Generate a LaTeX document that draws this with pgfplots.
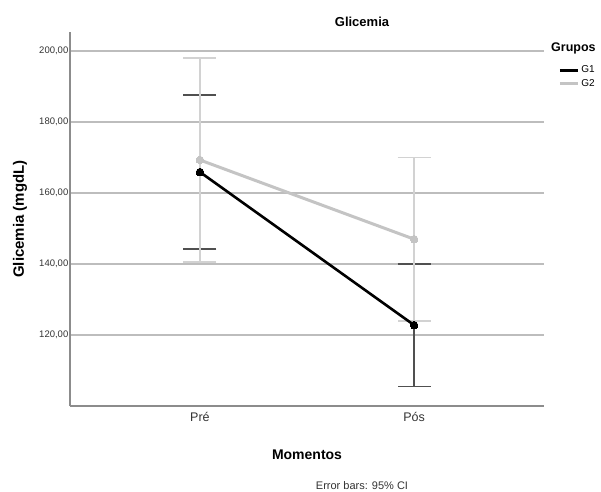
\documentclass[border=0pt]{standalone}
\usepackage{pgfplots}
\pgfplotsset{compat=1.18}
\usepackage{pgfplotstable}
\usepackage{fontspec}
\setmainfont{Liberation Sans}
\definecolor{axisgray}{HTML}{8C8C8C}
\definecolor{gridgray}{HTML}{BDBDBD}
\definecolor{gonebar}{HTML}{505050}
\definecolor{gtwo}{HTML}{C4C4C4}
\definecolor{gtwobar}{HTML}{D2D2D2}
\definecolor{ticktext}{HTML}{333333}

\pgfplotstableread{
x y e
1 165.9 21.7
2 122.8 17.3
}\gone
\pgfplotstableread{
x y e
1 169.3 28.7
2 147.0 23.0
}\gtwo

\begin{document}
\begin{tikzpicture}
\path[use as bounding box] (-70pt,-85pt) rectangle (531pt,406pt);
\begin{axis}[
  at={(0pt,0pt)}, anchor=south west,
  scale only axis, width=474pt, height=374pt,
  xmin=0.393, xmax=2.607, ymin=100, ymax=205.35,
  axis x line=bottom, axis y line=left,
  axis line style={-, draw=axisgray, line width=1.3pt},
  xtick={1,2}, xticklabels={Pré,Pós},
  ytick={120,140,160,180,200},
  yticklabels={{120,00},{140,00},{160,00},{180,00},{200,00}},
  major tick length=0pt,
  ymajorgrids, grid style={gridgray, line width=1.2pt},
  yticklabel style={font=\fontsize{9.5}{10}\selectfont, text=ticktext, inner sep=1.5pt},
  xticklabel style={font=\fontsize{12.5}{13}\selectfont, text=ticktext, yshift=-3pt},
  legend style={at={(1.03,0.915)}, anchor=north west, draw=none, fill=none,
    font=\fontsize{10}{11}\selectfont, row sep=1pt, inner sep=0pt},
  legend cell align=left,
  legend image code/.code={\draw[#1] (0pt,0pt) -- (18pt,0pt);},
  clip=false,
]
% error bars
\addplot[forget plot, draw=none, mark=none,
  error bars/.cd, y dir=both, y explicit,
  error bar style={draw=gonebar, line width=1.4pt},
  error mark options={rotate=90, mark size=16.5pt, draw=gonebar, line width=1.8pt}]
  table[x=x, y=y, y error=e]{\gone};
\addplot[forget plot, draw=none, mark=none,
  error bars/.cd, y dir=both, y explicit,
  error bar style={draw=gtwobar, line width=1.4pt},
  error mark options={rotate=90, mark size=16.5pt, draw=gtwobar, line width=1.8pt}]
  table[x=x, y=y, y error=e]{\gtwo};
% lines
\addplot[draw=black, line width=2.6pt, mark=*, mark size=3.8pt,
  mark options={fill=black, draw=black, line width=0pt}]
  table[x=x, y=y]{\gone};
\addlegendentry{G1}
\addplot[draw=gtwo, line width=3pt, mark=*, mark size=3.8pt,
  mark options={fill=gtwo, draw=gtwo, line width=0pt}]
  table[x=x, y=y]{\gtwo};
\addlegendentry{G2}
\end{axis}
\node[font=\bfseries\fontsize{13}{14}\selectfont] at (292pt,384pt) {Glicemia};
\node[font=\bfseries\fontsize{12.5}{13}\selectfont, anchor=west, inner sep=0pt] at (481pt,358pt) {Grupos};
\node[font=\bfseries\fontsize{15}{16}\selectfont, rotate=90] at (-50pt,187pt) {Glicemia (mgdL)};
\node[font=\bfseries\fontsize{14}{15}\selectfont] at (237pt,-49pt) {Momentos};
\node[font=\fontsize{11}{12}\selectfont, text=ticktext] at (292pt,-80pt) {Error bars: 95\% CI};
\end{tikzpicture}
\end{document}
